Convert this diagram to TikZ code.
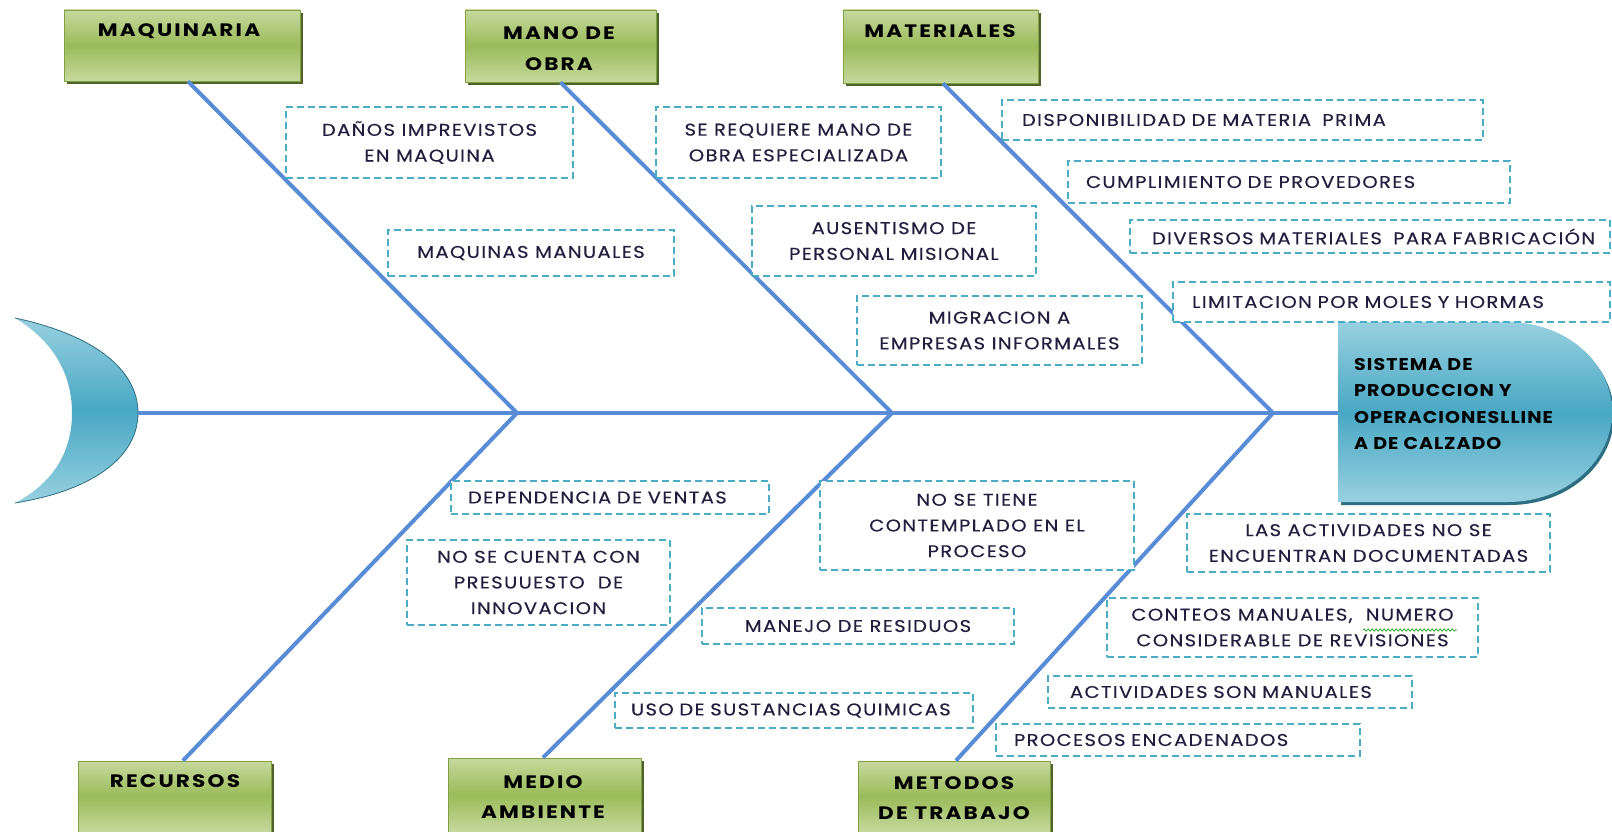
\documentclass[tikz,border=0pt]{standalone}
\usepackage{fontspec}
\setmainfont{Poppins}
\newfontfamily\causefont[FakeStretch=1.15, LetterSpace=8, FakeBold=0.3]{Poppins}
\newfontfamily\catfont[FakeStretch=1.2, LetterSpace=12]{Poppins}
\newfontfamily\headfont[FakeStretch=1.12, LetterSpace=6]{Poppins}
\usetikzlibrary{shadows,decorations.pathmorphing}

\definecolor{bonec}{RGB}{88,140,214}
\definecolor{dashc}{RGB}{75,172,198}
\definecolor{txtc}{RGB}{36,30,62}
\definecolor{glight}{RGB}{198,217,158}
\definecolor{gmid}{RGB}{155,187,89}
\definecolor{gline}{RGB}{130,160,70}
\definecolor{gdark}{RGB}{79,98,40}
\definecolor{tlight}{RGB}{152,208,224}
\definecolor{tmid}{RGB}{72,168,196}
\definecolor{tdark}{RGB}{45,110,130}

\tikzset{
  bone/.style={draw=bonec, line width=4pt},
  catbox/.style={rectangle, inner sep=0pt, top color=glight, bottom color=glight, middle color=gmid,
    draw=gline, line width=0.8pt,
    general shadow={fill=gdark, shadow xshift=3pt, shadow yshift=-3pt}},
  cattext/.style={inner sep=0pt, align=center, text=black,
    font=\catfont\fontsize{18}{30.5}\selectfont\bfseries},
  cause/.style={rectangle, inner sep=0pt, draw=dashc, fill=white, line width=1.4pt,
    dash pattern=on 7pt off 4pt, text=txtc, align=center,
    font=\causefont\fontsize{17}{25.7}\selectfont},
  causeleft/.style={cause, align=left},
}

\begin{document}
\begin{tikzpicture}[x=1pt,y=-1pt]
\useasboundingbox (0,0) rectangle (1612,832);

% junctions on the spine
\coordinate (j1) at (517,413);
\coordinate (j2) at (892,413);
\coordinate (j3) at (1273,413);
\coordinate (tailend) at (138,413);
\coordinate (headend) at (1338,413);

% tail
\shade[top color=tlight, bottom color=tlight, middle color=tmid]
  (15,318) .. controls (95,335) and (138,370) .. (138,413)
  .. controls (138,456) and (95,490) .. (15,503)
  .. controls (55,482) and (72,450) .. (72,413)
  .. controls (72,376) and (55,342) .. (15,318) -- cycle;
\draw[tdark, line width=0.8pt]
  (15,318) .. controls (95,335) and (138,370) .. (138,413)
  .. controls (138,456) and (95,490) .. (15,503);

% head
\fill[tdark] (1341,325) -- (1510,325) arc[start angle=-90, end angle=90, x radius=104, y radius=90] -- (1341,505) -- cycle;
\shade[top color=tlight, bottom color=tlight, middle color=tmid]
  (1338,322) -- (1508,322) arc[start angle=-90, end angle=90, x radius=104, y radius=90] -- (1338,502) -- cycle;
\node[anchor=west, align=left, inner sep=0pt, font=\headfont\fontsize{17}{26.5}\selectfont\bfseries, text=black]
  (head) at (1354,404) {SISTEMA DE\\PRODUCCION Y\\OPERACIONESLLINE\\A DE CALZADO};

% category boxes
\node[catbox, minimum width=236pt, minimum height=71pt] (maq) at (182,45.5) {};
\node[catbox, minimum width=191pt, minimum height=72pt] (mano) at (560.5,46) {};
\node[catbox, minimum width=195pt, minimum height=73pt] (mat) at (940.5,46.5) {};
\node[catbox, minimum width=193pt, minimum height=71pt] (rec) at (174.5,796.5) {};
\node[catbox, minimum width=193pt, minimum height=74pt] (med) at (544.5,795) {};
\node[catbox, minimum width=192pt, minimum height=71pt] (met) at (954,796.5) {};
\node[cattext] (maqt) at (179,31) {MAQUINARIA};
\node[cattext] (manot) at (559,48.5) {MANO DE\\OBRA};
\node[cattext] (matt) at (940,31.5) {MATERIALES};
\node[cattext] (rect) at (175,781) {RECURSOS};
\node[cattext] (medt) at (543,797) {MEDIO\\AMBIENTE};
\node[cattext] (mett) at (954,798) {METODOS\\DE TRABAJO};

% spine and bones
\draw[bone] (tailend) -- (headend);
\draw[bone] ([xshift=6pt]maq.south) -- (j1);
\draw[bone] (mano.south) -- (j2);
\draw[bone] ([xshift=2.5pt]mat.south) -- (j3);
\draw[bone] ([xshift=8.5pt]rec.north) -- (j1);
\draw[bone] ([xshift=-1.5pt]med.north) -- (j2);
\draw[bone] ([xshift=2pt]met.north) -- (j3);

% causes: maquinaria
\node[cause, minimum width=287pt, minimum height=71pt] (c1) at (429.5,142.5) {DAÑOS IMPREVISTOS\\EN MAQUINA};
\node[cause, minimum width=286pt, minimum height=46pt] (c2) at (531,253) {MAQUINAS MANUALES};
% causes: mano de obra
\node[cause, minimum width=285pt, minimum height=71pt] (c3) at (798.5,142.5) {SE REQUIERE MANO DE\\OBRA ESPECIALIZADA};
\node[cause, minimum width=284pt, minimum height=70pt] (c4) at (894,241) {AUSENTISMO DE\\PERSONAL MISIONAL};
\node[cause, minimum width=285pt, minimum height=69pt] (c5) at (999.5,330.5) {MIGRACION A\\EMPRESAS INFORMALES};
% causes: materiales
\node[causeleft, text width=441pt, inner xsep=20pt, minimum height=40pt] (c6) at (1242.5,120) {\mbox{DISPONIBILIDAD DE MATERIA\ \ PRIMA}};
\node[causeleft, text width=406pt, inner xsep=18pt, minimum height=42pt] (c7) at (1289,182) {\mbox{CUMPLIMIENTO DE PROVEDORES}};
\node[causeleft, text width=436pt, inner xsep=22pt, minimum height=33pt] (c8) at (1370,236.5) {\mbox{DIVERSOS MATERIALES\ \ PARA FABRICACIÓN}};
\node[causeleft, text width=399pt, inner xsep=19pt, minimum height=40pt] (c9) at (1391.5,302) {\mbox{LIMITACION POR MOLES Y HORMAS}};
% causes: recursos
\node[causeleft, text width=284pt, inner xsep=17pt, minimum height=33pt] (c10) at (610,497.5) {\mbox{DEPENDENCIA DE VENTAS}};
\node[cause, minimum width=263pt, minimum height=85pt] (c11) at (538.5,582.5) {NO SE CUENTA CON\\PRESUUESTO\ \ DE\\INNOVACION};
% causes: medio ambiente
\node[cause, minimum width=314pt, minimum height=89pt] (c12) at (977,525.5) {NO SE TIENE\\CONTEMPLADO EN EL\\PROCESO};
\node[cause, minimum width=312pt, minimum height=36pt] (c13) at (858,626) {MANEJO DE RESIDUOS};
\node[causeleft, text width=326pt, inner xsep=16pt, minimum height=35pt] (c14) at (794,710.5) {\mbox{USO DE SUSTANCIAS QUIMICAS}};
% causes: metodos de trabajo
\node[cause, minimum width=363pt, minimum height=58pt] (c15) at (1368.5,543) {LAS ACTIVIDADES NO SE\\ENCUENTRAN DOCUMENTADAS};
\node[cause, minimum width=371pt, minimum height=59pt] (c16) at (1292.5,627.5) {CONTEOS MANUALES,\ \ NUMERO\\CONSIDERABLE DE REVISIONES};
\node[causeleft, text width=320pt, inner xsep=22pt, minimum height=32pt] (c17) at (1230,692) {\mbox{ACTIVIDADES SON MANUALES}};
\node[causeleft, text width=328pt, inner xsep=18pt, minimum height=32pt] (c18) at (1178,740) {\mbox{PROCESOS ENCADENADOS}};

% spelling mark under NUMERO
\draw[green!60!black, line width=0.6pt, decorate, decoration={snake, amplitude=1.2pt, segment length=4pt}]
  (1363,630) -- (1457,630);
\end{tikzpicture}
\end{document}
